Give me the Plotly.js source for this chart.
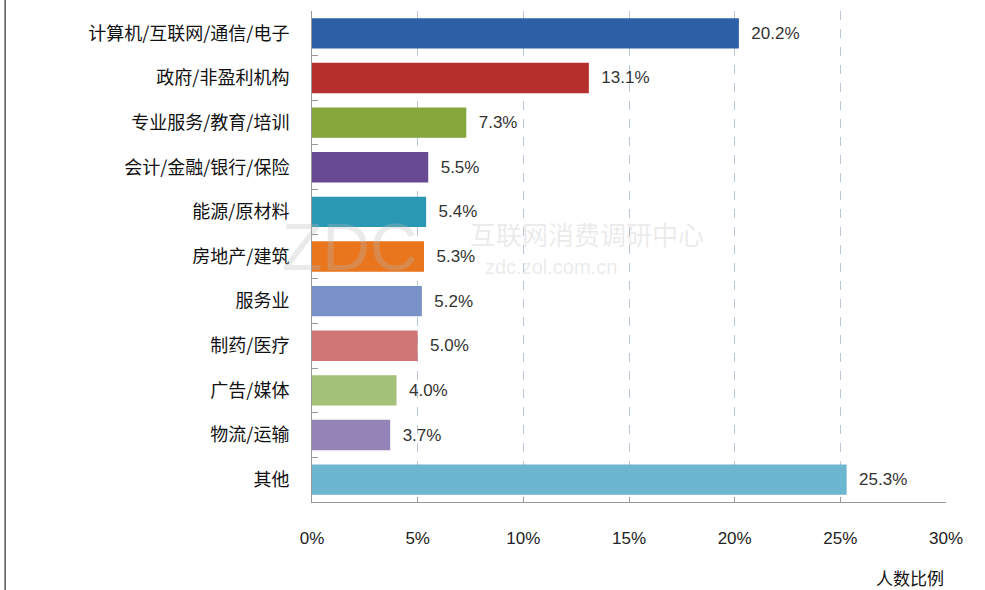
<!DOCTYPE html>
<html><head><meta charset="utf-8">
<script src="https://cdn.plot.ly/plotly-3.0.1.min.js"></script>
<style>body{margin:0;background:#fff}#c{width:985px;height:590px}</style>
</head><body><div id="c"></div>
<script>
var categories = ["计算机/互联网/通信/电子","政府/非盈利机构","专业服务/教育/培训","会计/金融/银行/保险","能源/原材料","房地产/建筑","服务业","制药/医疗","广告/媒体","物流/运输","其他"];
var values = [20.2, 13.1, 7.3, 5.5, 5.4, 5.3, 5.2, 5.0, 4.0, 3.7, 25.3];
var barColors = ["#2c5fa6","#b5302d","#85a63b","#684a92","#2a98b3","#e9751d","#7891c7","#cf7575","#a3c277","#9483b6","#6cb6d0"];
var tickVals = [0,5,10,15,20,25,30];
var tickText = ["0%","5%","10%","15%","20%","25%","30%"];
var axisTitle = "人数比例";

var font = "'Noto Sans CJK SC', 'Noto Sans', sans-serif";
var trace = {
  type: "bar", orientation: "h",
  y: categories, x: values,
  width: 0.68,
  marker: {color: barColors, line: {width: 0}},
  text: values.map(function(v){return "\u00a0\u00a0" + v.toFixed(1)+"%";}),
  textposition: "outside", cliponaxis: false,
  textfont: {family: "Arial, 'Liberation Sans', sans-serif", size: 17, color: "#333"},
  hoverinfo: "skip"
};
var layout = {
  width: 985, height: 590,
  margin: {l: 312, r: 39, t: 11, b: 88},
  paper_bgcolor: "#fff", plot_bgcolor: "#fff",
  showlegend: false,
  bargap: 0.32,
  xaxis: {
    range: [0, 30], tickvals: tickVals, ticktext: tickText,
    showgrid: true, gridcolor: "#b8c6d8", griddash: "dash", gridwidth: 1,
    showline: true, linecolor: "#999", linewidth: 1,
    ticks: "inside", ticklen: 5, tickcolor: "#999",
    zeroline: false, ticklabelstandoff: 21,
    tickfont: {family: "Arial, 'Liberation Sans', sans-serif", size: 17, color: "#222"},
    fixedrange: true
  },
  yaxis: {
    autorange: "reversed",
    showline: true, linecolor: "#999", linewidth: 1,
    ticks: "inside", ticklen: 6, tickcolor: "#999", tickson: "boundaries",
    ticklabelstandoff: 18,
    tickfont: {family: font, size: 18, color: "#111"},
    showgrid: false, fixedrange: true
  },
  annotations: [
    {xref: "paper", yref: "paper", x: 1.0, y: -0.124, xanchor: "right", yanchor: "top",
     text: axisTitle, showarrow: false, font: {family: font, size: 17, color: "#111"}},
    {xref: "x", yref: "paper", x: 1.8, y: 0.52, xanchor: "center", yanchor: "middle",
     text: "ZDC", showarrow: false, font: {family: "Arial, sans-serif", size: 66, color: "rgba(185,185,185,0.3)"}},
    {xref: "x", yref: "paper", x: 13.0, y: 0.505, xanchor: "center", yanchor: "bottom",
     text: "互联网消费调研中心", showarrow: false, font: {family: font, size: 26, color: "rgba(185,185,185,0.3)"}},
    {xref: "x", yref: "paper", x: 11.3, y: 0.505, xanchor: "center", yanchor: "top",
     text: "zdc.zol.com.cn", showarrow: false, font: {family: "Arial, sans-serif", size: 20, color: "rgba(185,185,185,0.3)"}}
  ],
  shapes: [
    {type: "line", xref: "paper", yref: "paper", x0: -0.484, x1: -0.484, y0: -0.2, y1: 1.03, line: {color: "#555", width: 1.5}}
  ]
};
Plotly.newPlot("c", [trace], layout, {staticPlot: true, displayModeBar: false});
</script></body></html>
